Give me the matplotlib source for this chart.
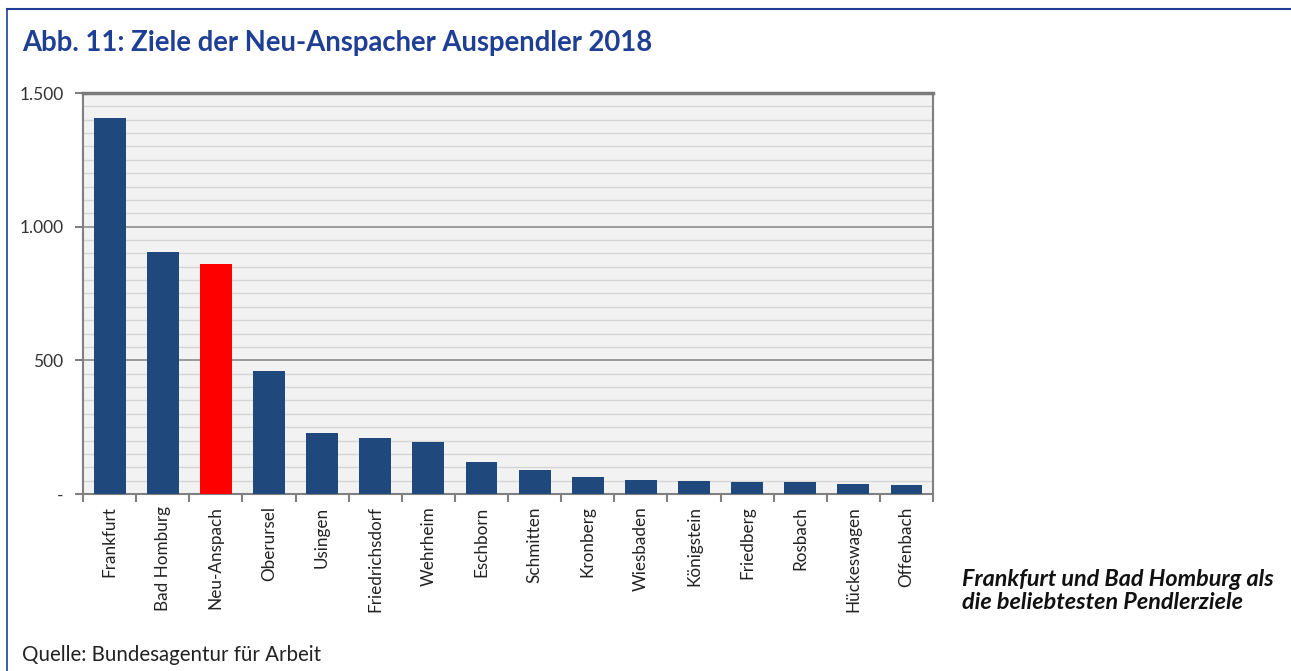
import matplotlib.pyplot as plt
from matplotlib.ticker import MultipleLocator, FixedLocator, FuncFormatter
from matplotlib.lines import Line2D

# Data
orte = ["Frankfurt", "Bad Homburg", "Neu-Anspach", "Oberursel", "Usingen",
        "Friedrichsdorf", "Wehrheim", "Eschborn", "Schmitten", "Kronberg",
        "Wiesbaden", "Königstein", "Friedberg", "Rosbach", "Hückeswagen",
        "Offenbach"]
pendler = [1407, 905, 860, 460, 228, 210, 195, 120, 90, 64,
           52, 49, 46, 46, 38, 34]
y_ticks = [0, 500, 1000, 1500]
y_tick_labels = ["-", "500", "1.000", "1.500"]

color_bar = "#1f497d"
color_home = "#ff0000"
color_title = "#1f3f94"

plt.rcParams['font.family'] = ['Lato', 'DejaVu Sans']

fig = plt.figure(figsize=(12.91, 6.71), dpi=100)
ax = fig.add_axes([0.0643, 0.2638, 0.6584, 0.5976])

x = range(len(orte))
colors = [color_home if o == "Neu-Anspach" else color_bar for o in orte]
ax.bar(x, pendler, width=0.6, color=colors, zorder=3)

ax.set_facecolor("#f2f2f2")
ax.set_xlim(-0.5, len(orte) - 0.5)
ax.set_ylim(0, 1500)

# Gridlines: minor every 50, major every 500
ax.yaxis.set_major_locator(FixedLocator(y_ticks))
ax.yaxis.set_major_formatter(FuncFormatter(lambda v, p: y_tick_labels[y_ticks.index(int(v))] if int(v) in y_ticks else ""))
ax.yaxis.set_minor_locator(MultipleLocator(50))
ax.grid(axis="y", which="minor", color="#d4d4d4", linewidth=1.0, zorder=1)
ax.grid(axis="y", which="major", color="#8c8c8c", linewidth=1.2, zorder=2)
ax.tick_params(axis="y", which="minor", length=0)
ax.tick_params(axis="y", which="major", length=6, width=1.5, color="#808080",
               labelsize=12.5, labelcolor="#333333", pad=8)

# x ticks between categories, labels centered
ax.set_xticks([i + 0.5 for i in range(-1, len(orte))])
ax.set_xticklabels([])
ax.set_xticks(list(x), minor=True)
ax.set_xticklabels(orte, minor=True, rotation=90, fontsize=12.3, color="#222222")
ax.tick_params(axis="x", which="major", length=6, width=1.5, color="#808080")
ax.tick_params(axis="x", which="minor", length=0, pad=9)

for s in ax.spines.values():
    s.set_color("#808080")
    s.set_linewidth(1.5)
ax.spines["top"].set_linewidth(2.5)
ax.spines["top"].set_color("#7a7a7a")

# Title and texts
fig.text(22 / 1291, 1 - 43 / 671, "Abb. 11: Ziele der Neu-Anspacher Auspendler 2018",
         fontsize=19.8, fontweight="bold", color=color_title, va="center", ha="left")
fig.text(962 / 1291, 1 - 591 / 671,
         "Frankfurt und Bad Homburg als\ndie beliebtesten Pendlerziele",
         fontsize=16.8, fontweight="bold", fontstyle="italic", color="#111111",
         va="center", ha="left", linespacing=1.12)
fig.text(22 / 1291, 1 - 655 / 671, "Quelle: Bundesagentur für Arbeit",
         fontsize=14.8, color="#222222", va="center", ha="left")

# Blue frame (top and left)
fig.add_artist(Line2D([7 / 1291, 7 / 1291], [0, 1 - 9 / 671],
                      color=color_title, linewidth=1.2, transform=fig.transFigure))
fig.add_artist(Line2D([7 / 1291, 1], [1 - 9 / 671, 1 - 9 / 671],
                      color=color_title, linewidth=1.5, transform=fig.transFigure))

fig.savefig("out.png", dpi=100)
